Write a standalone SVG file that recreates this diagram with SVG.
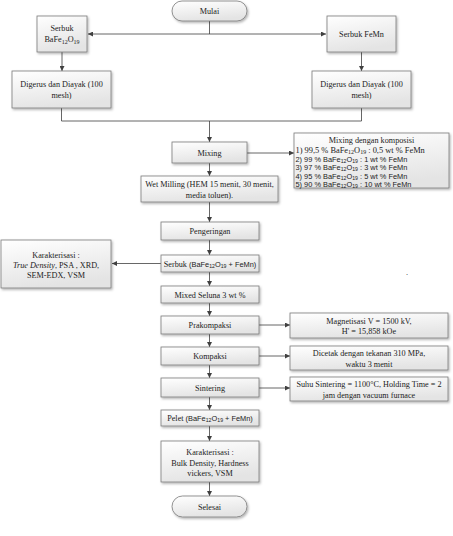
<svg xmlns="http://www.w3.org/2000/svg" width="453" height="536" viewBox="0 0 453 536">
<style>
.box{fill:url(#g);stroke:#7a7a7a;stroke-width:0.8;filter:url(#sh)}
.t{font-family:"Liberation Serif",serif;font-size:8.2px;fill:#222;text-anchor:middle}
.l{font-family:"Liberation Serif",serif;font-size:8.4px;fill:#222;text-anchor:start}
.s{font-family:"Liberation Sans",sans-serif;font-size:7.4px}
.c{fill:none;stroke:#404040;stroke-width:0.8}
</style>
<defs>
<linearGradient id="g" x1="0" y1="0" x2="0.3" y2="1"><stop offset="0" stop-color="#ffffff"/><stop offset="1" stop-color="#e4e4e4"/></linearGradient>
<filter id="sh" x="-10%" y="-10%" width="130%" height="140%"><feDropShadow dx="1.2" dy="1.5" stdDeviation="0.8" flood-color="#000" flood-opacity="0.3"/></filter>
<marker id="a" viewBox="0 0 6 6" refX="6" refY="3" markerWidth="5" markerHeight="5" orient="auto-start-reverse" markerUnits="userSpaceOnUse"><path d="M0,0 L6,3 L0,6 z" fill="#404040"/></marker>
</defs>
<g id="connectors">
<path class="c" d="M209.5,21 V34"/>
<path class="c" d="M88,34 H326" marker-start="url(#a)" marker-end="url(#a)"/>
<path class="c" d="M62,52 V71" marker-end="url(#a)"/>
<path class="c" d="M361.5,52 V71" marker-end="url(#a)"/>
<path class="c" d="M61.5,108 V121 H361.5 V108"/>
<path class="c" d="M209.5,121 V142" marker-end="url(#a)"/>
<path class="c" d="M247,153 H294" marker-end="url(#a)"/>
<path class="c" d="M209.5,163 V176" marker-end="url(#a)"/>
<path class="c" d="M209.5,202 V222" marker-end="url(#a)"/>
<path class="c" d="M209.5,240 V255" marker-end="url(#a)"/>
<path class="c" d="M161,263.5 H112" marker-end="url(#a)"/>
<path class="c" d="M209.5,272 V286" marker-end="url(#a)"/>
<path class="c" d="M209.5,303 V316" marker-end="url(#a)"/>
<path class="c" d="M259,325 H290" marker-end="url(#a)"/>
<path class="c" d="M209.5,334 V347" marker-end="url(#a)"/>
<path class="c" d="M259,356 H290" marker-end="url(#a)"/>
<path class="c" d="M209.5,365 V378" marker-end="url(#a)"/>
<path class="c" d="M259,388 H290" marker-end="url(#a)"/>
<path class="c" d="M209.5,397 V410" marker-end="url(#a)"/>
<path class="c" d="M209.5,426 V441" marker-end="url(#a)"/>
<path class="c" d="M209.5,482 V496" marker-end="url(#a)"/>
</g>
<g id="mulai"><rect class="box" x="172" y="1" width="75" height="20" rx="10"/><text class="t" x="209.5" y="14">Mulai</text></g>
<g id="serbuk-bafe"><rect class="box" x="37" y="16" width="50" height="36"/><text class="t" x="62" y="31">Serbuk</text><text class="t" x="62" y="42">BaFe<tspan font-size="6" dy="1.5">12</tspan><tspan dy="-1.5">O</tspan><tspan font-size="6" dy="1.5">19</tspan></text></g>
<g id="serbuk-femn"><rect class="box" x="327" y="16" width="69" height="36"/><text class="t" x="361.5" y="37">Serbuk FeMn</text></g>
<g id="digerus-1"><rect class="box" x="12" y="71" width="99" height="37"/><text class="t" x="61.5" y="87">Digerus dan Diayak (100</text><text class="t" x="61.5" y="97.5">mesh)</text></g>
<g id="digerus-2"><rect class="box" x="312" y="71" width="99" height="37"/><text class="t" x="361.5" y="87">Digerus dan Diayak (100</text><text class="t" x="361.5" y="97.5">mesh)</text></g>
<g id="mixing"><rect class="box" x="172" y="142" width="75" height="21"/><text class="t" x="209.5" y="155.5">Mixing</text></g>
<g id="komposisi"><rect class="box" x="294" y="133" width="155" height="55"/>
<text class="t" x="371.5" y="143">Mixing dengan komposisi</text>
<text class="l" x="295.5" y="152.5">1) 99,5 % BaFe<tspan font-size="6" dy="1.5">12</tspan><tspan dy="-1.5">O</tspan><tspan font-size="6" dy="1.5">19</tspan><tspan dy="-1.5"> : 0,5 wt % FeMn</tspan></text>
<text class="l s" x="295.5" y="161.5">2) 99 % BaFe<tspan font-size="5.2" dy="1.2">12</tspan><tspan dy="-1.2">O</tspan><tspan font-size="5.2" dy="1.2">19</tspan><tspan dy="-1.2"> : 1 wt % FeMn</tspan></text>
<text class="l s" x="295.5" y="170">3) 97 % BaFe<tspan font-size="5.2" dy="1.2">12</tspan><tspan dy="-1.2">O</tspan><tspan font-size="5.2" dy="1.2">19</tspan><tspan dy="-1.2"> : 3 wt % FeMn</tspan></text>
<text class="l s" x="295.5" y="178.5">4) 95 % BaFe<tspan font-size="5.2" dy="1.2">12</tspan><tspan dy="-1.2">O</tspan><tspan font-size="5.2" dy="1.2">19</tspan><tspan dy="-1.2"> : 5 wt % FeMn</tspan></text>
<text class="l s" x="295.5" y="187">5) 90 % BaFe<tspan font-size="5.2" dy="1.2">12</tspan><tspan dy="-1.2">O</tspan><tspan font-size="5.2" dy="1.2">19</tspan><tspan dy="-1.2"> : 10 wt % FeMn</tspan></text>
</g>
<g id="wet-milling"><rect class="box" x="141" y="176" width="137" height="26"/><text class="t" x="209.5" y="187">Wet Milling (HEM 15 menit, 30 menit,</text><text class="t" x="209.5" y="197.5">media toluen).</text></g>
<g id="pengeringan"><rect class="box" x="161" y="222" width="98" height="18"/><text class="t" x="210" y="234">Pengeringan</text></g>
<g id="serbuk-campuran"><rect class="box" x="161" y="255" width="98" height="17"/><text class="t" x="210" y="266.5">Serbuk <tspan class="s">(BaFe<tspan font-size="5.2" dy="1.2">12</tspan><tspan dy="-1.2">O</tspan><tspan font-size="5.2" dy="1.2">19</tspan><tspan dy="-1.2"> + FeMn)</tspan></tspan></text></g>
<g id="karakterisasi-1"><rect class="box" x="1" y="240" width="110" height="48"/><text class="t" x="56" y="258">Karakterisasi :</text><text class="t" x="56" y="268"><tspan font-style="italic">True Density</tspan>, PSA , XRD,</text><text class="t" x="56" y="278">SEM-EDX, VSM</text></g>
<text class="t" x="407" y="275" fill="#777" font-size="6">.</text>
<g id="mixed-seluna"><rect class="box" x="161" y="286" width="98" height="17"/><text class="t" x="210" y="297.5">Mixed Seluna 3 wt %</text></g>
<g id="prakompaksi"><rect class="box" x="161" y="316" width="98" height="18"/><text class="t" x="210" y="328">Prakompaksi</text></g>
<g id="magnetisasi"><rect class="box" x="290" y="313" width="158" height="25"/><text class="t" x="369" y="323.5">Magnetisasi V = 1500 kV,</text><text class="t" x="369" y="334">H' = 15,858 kOe</text></g>
<g id="kompaksi"><rect class="box" x="161" y="347" width="98" height="18"/><text class="t" x="210" y="359">Kompaksi</text></g>
<g id="dicetak"><rect class="box" x="290" y="346" width="158" height="24"/><text class="t" x="369" y="356">Dicetak dengan tekanan 310 MPa,</text><text class="t" x="369" y="366.5">waktu 3 menit</text></g>
<g id="sintering"><rect class="box" x="161" y="378" width="98" height="19"/><text class="t" x="210" y="390.5">Sintering</text></g>
<g id="suhu"><rect class="box" x="290" y="377" width="158" height="24"/><text class="t" x="369" y="387">Suhu Sintering = 1100°C,  Holding Time = 2</text><text class="t" x="369" y="397.5">jam dengan vacuum furnace</text></g>
<g id="pelet"><rect class="box" x="161" y="410" width="98" height="16"/><text class="t" x="210" y="421">Pelet <tspan class="s">(BaFe<tspan font-size="5.2" dy="1.2">12</tspan><tspan dy="-1.2">O</tspan><tspan font-size="5.2" dy="1.2">19</tspan><tspan dy="-1.2"> + FeMn)</tspan></tspan></text></g>
<g id="karakterisasi-2"><rect class="box" x="161" y="441" width="98" height="41"/><text class="t" x="210" y="455">Karakterisasi :</text><text class="t" x="210" y="465.5">Bulk Density, Hardness</text><text class="t" x="210" y="476">vickers, VSM</text></g>
<g id="selesai"><rect class="box" x="172" y="496" width="75" height="21" rx="10.5"/><text class="t" x="209.5" y="509.5">Selesai</text></g>
</svg>
